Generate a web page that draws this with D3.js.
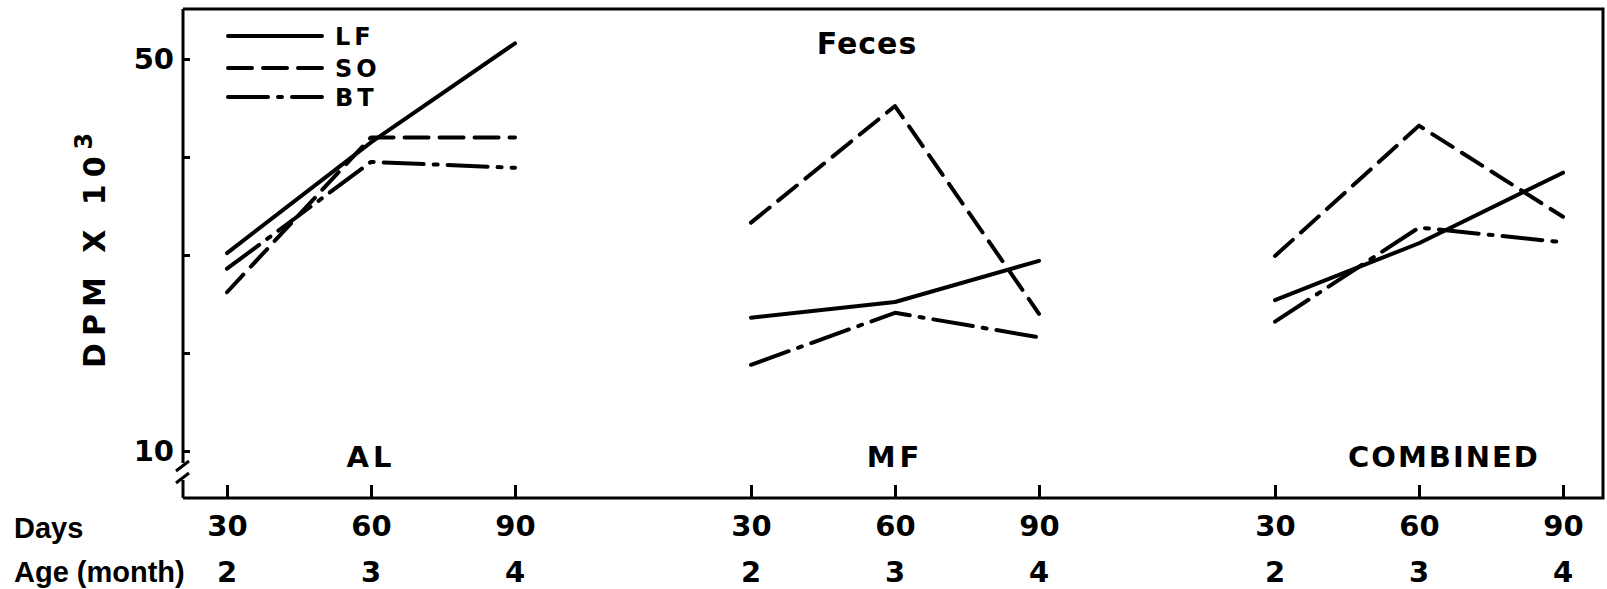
<!DOCTYPE html>
<html>
<head>
<meta charset="utf-8">
<script src="https://d3js.org/d3.v7.min.js"></script>
<style>
  body { margin: 0; background: #fff; }
  svg text { font-family: "Liberation Sans", Arial, sans-serif; font-weight: bold; fill: #000; }
  svg text.num { font-family: "DejaVu Sans", sans-serif; }
</style>
</head>
<body>
<div id="chart"></div>
<script>

// data (DPM x 10^3)
var panels = ["AL", "MF", "COMBINED"];
var days = [30, 60, 90];
var months = [2, 3, 4];
var seriesNames = ["LF", "SO", "BT"];
var lfValues = [[30.2, 41.5, 51.6], [23.6, 25.2, 29.4], [25.4, 31.2, 38.4]];
var soValues = [[26.2, 42.0, 42.0], [33.3, 45.2, 24.0], [29.9, 43.2, 33.9]];
var btValues = [[28.6, 39.5, 38.9], [18.8, 24.1, 21.6], [23.2, 32.8, 31.3]];
var yTicks = [10, 20, 30, 40, 50];

var width = 1607, height = 589;
var frameLeft = 183, frameRight = 1603, frameTop = 9, frameBottom = 498;

var svg = d3.select("#chart")
  .append("svg")
    .attr("width", width)
    .attr("height", height);

var y = d3.scaleLinear()
  .domain([10, 50])
  .range([451, 59]);

var panelX = d3.scalePoint()
  .domain(panels)
  .range([227, 1275]);

var xInner = d3.scaleLinear()
  .domain([30, 90])
  .range([0, 288]);

var dashes = { LF: null, SO: "24,11", BT: "40,10,4,10" };

// frame: top, right, bottom
svg.append("path")
  .attr("d", "M" + frameLeft + "," + frameTop + "H" + frameRight + "V" + frameBottom + "H" + frameLeft)
  .attr("fill", "none")
  .attr("stroke", "#000")
  .attr("stroke-width", 3);

// left axis with break near the bottom
svg.append("line")
  .attr("x1", frameLeft).attr("x2", frameLeft)
  .attr("y1", frameTop).attr("y2", 463)
  .attr("stroke", "#000").attr("stroke-width", 3);
svg.append("line")
  .attr("x1", frameLeft).attr("x2", frameLeft)
  .attr("y1", 480).attr("y2", frameBottom)
  .attr("stroke", "#000").attr("stroke-width", 3);
svg.append("path")
  .attr("d", "M176,471 L189,461 M176,483 L189,473")
  .attr("fill", "none")
  .attr("stroke", "#000").attr("stroke-width", 3);

var yAxis = svg.append("g")
  .attr("transform", "translate(" + frameLeft + ",0)")
  .call(d3.axisLeft(y)
    .tickValues(yTicks)
    .tickSizeInner(-7)
    .tickSizeOuter(0)
    .tickPadding(9)
    .tickFormat(function(d) { return (d == 10 || d == 50) ? d : ""; }));
yAxis.select(".domain").remove();
yAxis.selectAll(".tick line").attr("stroke-width", 3);
yAxis.selectAll(".tick text")
  .attr("class", "num")
  .style("font-size", "29px")
  .attr("font-family", null);

// y label
var ylab = svg.append("text")
  .attr("class", "num")
  .attr("transform", "translate(105,368) rotate(-90)")
  .style("font-size", "30px")
  .style("letter-spacing", "7px")
  .text("DPM X 10");
ylab.append("tspan")
  .attr("dy", -13)
  .style("font-size", "24px")
  .text("3");

// title
svg.append("text")
  .attr("class", "num")
  .attr("x", 867)
  .attr("y", 54)
  .attr("text-anchor", "middle")
  .style("font-size", "30px")
  .style("letter-spacing", "1px")
  .text("Feces");

var line = d3.line()
  .x(function(d, i) { return xInner(days[i]); })
  .y(function(d) { return y(d); });

var seriesValues = { LF: lfValues, SO: soValues, BT: btValues };

panels.forEach(function(p, pi) {
  var g = svg.append("g")
    .attr("transform", "translate(" + panelX(p) + ",0)");

  // x axis ticks pointing up
  var xa = g.append("g")
    .attr("transform", "translate(0," + frameBottom + ")")
    .call(d3.axisBottom(xInner)
      .tickValues(days)
      .tickSizeInner(-13)
      .tickSizeOuter(0)
      .tickPadding(17));
  xa.select(".domain").remove();
  xa.selectAll(".tick line").attr("stroke-width", 3);
  xa.selectAll(".tick text")
    .attr("class", "num")
    .style("font-size", "29px")
    .attr("font-family", null);

  g.selectAll(".month")
    .data(months)
    .enter().append("text")
      .attr("class", "num")
      .attr("x", function(d, i) { return xInner(days[i]); })
      .attr("y", 582)
      .attr("text-anchor", "middle")
      .style("font-size", "29px")
      .text(function(d) { return d; });

  // panel label
  g.append("text")
    .attr("class", "num")
    .attr("x", xInner(60) + (pi == 2 ? 25 : 0))
    .attr("y", 467)
    .attr("text-anchor", "middle")
    .style("font-size", "29px")
    .style("letter-spacing", pi == 2 ? "2px" : "4px")
    .text(p);

  seriesNames.forEach(function(s) {
    g.append("path")
      .datum(seriesValues[s][pi])
      .attr("fill", "none")
      .attr("stroke", "#000")
      .attr("stroke-width", 4)
      .attr("stroke-linejoin", "round")
      .attr("stroke-linecap", "round")
      .attr("stroke-dasharray", dashes[s])
      .attr("d", line);
  });
});

// legend
var legend = svg.append("g");
seriesNames.forEach(function(s, i) {
  var ly = [36, 68, 97][i];
  legend.append("line")
    .attr("x1", 228).attr("x2", 322)
    .attr("y1", ly).attr("y2", ly)
    .attr("stroke", "#000")
    .attr("stroke-width", 4)
    .attr("stroke-linecap", "round")
    .attr("stroke-dasharray", dashes[s]);
  legend.append("text")
    .attr("class", "num")
    .attr("x", 335)
    .attr("y", ly + 9)
    .style("font-size", "24px")
    .style("letter-spacing", "4px")
    .text(s);
});

// axis row captions
svg.append("text")
  .attr("x", 14)
  .attr("y", 538)
  .style("font-size", "29px")
  .text("Days");
svg.append("text")
  .attr("x", 14)
  .attr("y", 582)
  .style("font-size", "29px")
  .text("Age (month)");

</script>
</body>
</html>
